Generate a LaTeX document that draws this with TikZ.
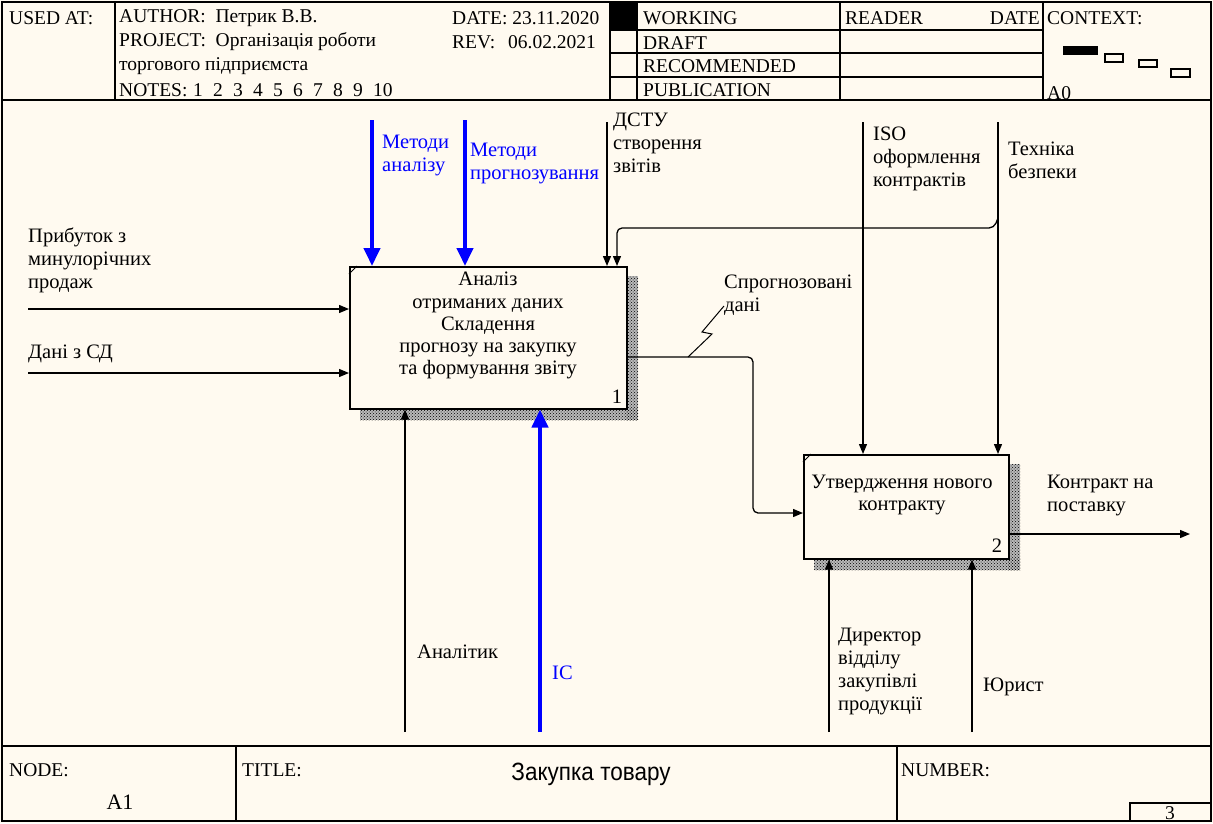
\documentclass[tikz,border=0pt]{standalone}
\usepackage{fontspec}
\setmainfont{Liberation Serif}
\newfontfamily\titlesans{Liberation Sans}
\usetikzlibrary{arrows.meta,patterns}
\definecolor{bgc}{HTML}{FFFAF0}
\definecolor{idefblue}{HTML}{0000FF}
\newcommand\fbody{\fontsize{20.5}{23}\selectfont}
\newcommand\fboxt{\fontsize{20.5}{22.3}\selectfont}
\newcommand\fhead{\fontsize{19.5}{24}\selectfont}
\tikzset{
  frameline/.style={line width=1.5pt},
  arr/.style={line width=1.3pt, -{Triangle[length=10pt,width=8pt]}},
  barr/.style={line width=4pt, idefblue, -{Triangle[length=18pt,width=16pt]}},
  actbox/.style={draw, line width=1.5pt, fill=bgc, anchor=north west, inner sep=0pt},
  shadowfill/.style={pattern=crosshatch dots, pattern color=black},
  lbl/.style={anchor=north west, inner sep=0pt, align=left, font=\fbody},
  bluelbl/.style={lbl, text=idefblue},
  hdr/.style={anchor=west, inner sep=0pt, font=\fhead},
  boxtext/.style={anchor=north, inner sep=0pt, align=center, font=\fboxt},
}
\begin{document}
\begin{tikzpicture}[x=1pt,y=-1pt]
\useasboundingbox (0,0) rectangle (1213,823);
\fill[bgc] (0,0) rectangle (1213,823);
% outer frame and header
\draw[frameline] (2,2) rectangle (1211,821);
\draw[frameline] (2,100) -- (1211,100);
\draw[frameline] (115,2) -- (115,100);
\draw[frameline] (610,2) -- (610,100);
\draw[frameline] (637,2) -- (637,100);
\draw[frameline] (840,2) -- (840,100);
\draw[frameline] (1043,2) -- (1043,100);
\foreach \yy in {30,53,77} \draw[frameline] (610,\yy) -- (1043,\yy);
\fill (611,3) rectangle (637,30);
% header texts
\node[hdr] (usedat) at (9,18) {USED AT:};
\node[hdr] (author) at (119,18) {AUTHOR:\ \ Петрик В.В.};
\node[hdr] (date) at (452,18) {DATE: 23.11.2020};
\node[hdr] (project) at (119,42) {PROJECT:\ \ Організація роботи};
\node[hdr] (rev) at (452,42) {REV:};
\node[hdr] (revdate) at (508,42) {06.02.2021};
\node[hdr] (project2) at (119,66) {торгового підприємста};
\node[hdr] (notes) at (119,90) {NOTES:};
\foreach \n in {1,...,10} \node[hdr] (nt\n) at ({193+20*(\n-1)},90) {\n};
\node[hdr] (working) at (643,18) {WORKING};
\node[hdr] (draft) at (643,43) {DRAFT};
\node[hdr] (recommended) at (643,66) {RECOMMENDED};
\node[hdr] (publication) at (643,90) {PUBLICATION};
\node[hdr] (reader) at (845,18) {READER};
\node[hdr, anchor=east] (rdate) at (1040,18) {DATE};
\node[hdr] (context) at (1047,18) {CONTEXT:};
\node[hdr] (a0) at (1047,93) {A0};
\fill (1063,46) rectangle (1098,55);
\draw[line width=1.2pt] (1105,54) rectangle (1123,62);
\draw[line width=1.2pt] (1139,60) rectangle (1157,67);
\draw[line width=1.2pt] (1171,69) rectangle (1190,77);
% footer
\draw[frameline] (2,746) -- (1211,746);
\draw[frameline] (236,746) -- (236,821);
\draw[frameline] (897,746) -- (897,821);
\draw[frameline] (1130,803) rectangle (1211,821);
\node[hdr] (nodelbl) at (9,770) {NODE:};
\node[hdr, anchor=center, font=\fontsize{22}{24}\selectfont] (nodeval) at (120,802) {A1};
\node[hdr] (titlelbl) at (242,770) {TITLE:};
\node[anchor=center, inner sep=0pt, font=\titlesans\fontsize{25}{28}\selectfont] (titleval) at (591,774) {\scalebox{0.9}[1]{Закупка товару}};
\node[hdr] (numberlbl) at (901,770) {NUMBER:};
\node[hdr, anchor=center] (numval) at (1170,813) {3};
% shadows
\fill[gray!55] (626,276) rectangle (638,420);
\fill[gray!55] (360,408) rectangle (638,420);
\fill[gray!55] (1008,464) rectangle (1020,570);
\fill[gray!55] (814,558) rectangle (1020,570);
\fill[shadowfill] (626,276) rectangle (638,420);
\fill[shadowfill] (360,408) rectangle (638,420);
\fill[shadowfill] (1008,464) rectangle (1020,570);
\fill[shadowfill] (814,558) rectangle (1020,570);
% activity boxes
\node[actbox, minimum width=277pt, minimum height=142pt] (b1) at (349,266) {};
\node[actbox, minimum width=205pt, minimum height=104pt] (b2) at (803,454) {};
\draw[line width=0.9pt] (b1.north west) ++(0,8) -- ++(8,-8);
\draw[line width=0.9pt] (b2.north west) ++(0,8) -- ++(8,-8);
\node[boxtext] (b1text) at (488,272) {Аналіз\\отриманих даних\\Складення\\прогнозу на закупку\\та формування звіту};
\node[boxtext, anchor=center] (b1num) at (617,397) {1};
\node[boxtext] (b2text) at (902,475) {Утвердження нового\\контракту};
\node[boxtext, anchor=center] (b2num) at (997,546) {2};
% inputs
\coordinate (in1) at (28,309);
\coordinate (in2) at (28,373);
\draw[arr] (in1) -- (b1.west |- in1);
\draw[arr] (in2) -- (b1.west |- in2);
\node[lbl] (in1lbl) at (28,228) {Прибуток з\\минулорічних\\продаж};
\node[lbl] (in2lbl) at (28,345) {Дані з СД};
% controls of box 1
\coordinate (c1) at (372,120);
\coordinate (c2) at (465,120);
\coordinate (c3) at (607,122);
\draw[barr] (c1) -- (b1.north -| c1);
\draw[barr] (c2) -- (b1.north -| c2);
\draw[arr] (c3) -- (b1.north -| c3);
\node[bluelbl] (c1lbl) at (382,135) {Методи\\аналізу};
\node[bluelbl] (c2lbl) at (470,143) {Методи\\прогнозування};
\node[lbl] (c3lbl) at (613,113) {ДСТУ\\створення\\звітів};
% controls of box 2
\coordinate (c4) at (863,122);
\coordinate (c5) at (998,122);
\draw[arr] (c4) -- (b2.north -| c4);
\draw[arr] (c5) -- (b2.north -| c5);
\node[lbl] (c4lbl) at (873,127) {ISO\\оформлення\\контрактів};
\node[lbl] (c5lbl) at (1008,142) {Техніка\\безпеки};
% branch from Техніка to box 1
\coordinate (br) at (998,218);
\coordinate (brx) at (617,228);
\draw[arr, rounded corners=5pt] (br) -- (994,228) -- (brx) -- (b1.north -| brx);
% output of box 1 to box 2
\coordinate (o1) at (626,357);
\coordinate (o1a) at (753,357);
\coordinate (o1b) at (753,513);
\draw[arr, rounded corners=5pt] (b1.east |- o1) -- (o1a) -- (o1b) -- (b2.west |- o1b);
\node[lbl] (o1lbl) at (724,275) {Спрогнозовані\\дані};
\draw[line width=1pt] (688,357) -- (712,334) -- (702,332) -- (o1lbl.west |- 0,306);
% output of box 2
\coordinate (o2) at (1190,534);
\draw[arr] (b2.east |- o2) -- (o2);
\node[lbl] (o2lbl) at (1047,475) {Контракт на\\поставку};
% mechanisms
\coordinate (m1) at (405,732);
\coordinate (m2) at (540,732);
\coordinate (m3) at (829,732);
\coordinate (m4) at (972,732);
\draw[arr] (m1) -- (b1.south -| m1);
\draw[barr] (m2) -- (b1.south -| m2);
\draw[arr] (m3) -- (b2.south -| m3);
\draw[arr] (m4) -- (b2.south -| m4);
\node[lbl] (m1lbl) at (417,645) {Аналітик};
\node[bluelbl] (m2lbl) at (552,666) {IC};
\node[lbl] (m3lbl) at (838,628) {Директор\\відділу\\закупівлі\\продукції};
\node[lbl] (m4lbl) at (983,678) {Юрист};
\end{tikzpicture}
\end{document}
